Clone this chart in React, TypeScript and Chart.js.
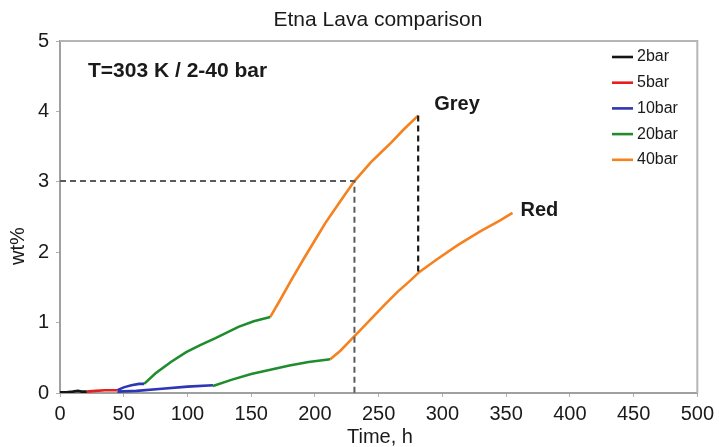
import React, { useEffect, useRef } from "react";
import { Chart, registerables } from "chart.js";

Chart.register(...registerables);

// ---- data (time in h, uptake in wt%) ----
const bar2Time = [0, 5, 10, 14, 17, 21];
const bar2Wt = [0.01, 0.01, 0.02, 0.03, 0.02, 0.02];
const bar5Time = [21, 28, 35, 40, 45];
const bar5Wt = [0.02, 0.03, 0.04, 0.04, 0.04];

// "Grey" lava branch
const bar10GreyTime = [45, 50, 56, 62, 66];
const bar10GreyWt = [0.04, 0.08, 0.11, 0.13, 0.13];
const bar20GreyTime = [66, 75, 87, 99, 110, 122, 140, 152, 165];
const bar20GreyWt = [0.13, 0.28, 0.44, 0.58, 0.68, 0.78, 0.94, 1.02, 1.08];
const bar40GreyTime = [165, 172, 182, 191, 200, 208, 216, 224, 231, 244, 252, 260, 270, 281];
const bar40GreyWt = [1.08, 1.3, 1.62, 1.9, 2.17, 2.41, 2.62, 2.83, 3.01, 3.28, 3.42, 3.56, 3.75, 3.94];

// "Red" lava branch
const bar10RedTime = [45, 60, 80, 100, 120];
const bar10RedWt = [0.02, 0.03, 0.06, 0.09, 0.11];
const bar20RedTime = [120, 135, 150, 165, 180, 195, 212];
const bar20RedWt = [0.1, 0.19, 0.27, 0.33, 0.39, 0.44, 0.48];
const bar40RedTime = [212, 220, 228, 236, 245, 255, 265, 275, 282, 295, 312, 330, 345, 355];
const bar40RedWt = [0.48, 0.6, 0.75, 0.9, 1.07, 1.26, 1.44, 1.6, 1.72, 1.89, 2.1, 2.3, 2.45, 2.56];

// guide lines
const guideTime = 231;
const guideWt = 3.01;
const diffTime = 281;
const diffTop = 3.94;
const diffBottom = 1.72;

const seriesNames = ["2bar", "5bar", "10bar", "20bar", "40bar"];
const seriesColors = ["#151515", "#e3201f", "#2d36b3", "#1f8d2d", "#f5821f"];

const titleText = "Etna Lava comparison";
const noteText = "T=303 K / 2-40 bar";
const xTitle = "Time, h";
const yTitle = "wt%";

const FONT = "'Liberation Sans', Arial, Helvetica, sans-serif";

type P = { x: number; y: number | null };
const pts = (t: number[], w: number[]): P[] => t.map((x, i) => ({ x, y: w[i] }));
const joinGap = (a: P[], b: P[]): P[] => [...a, { x: a[a.length - 1].x + 0.01, y: null }, ...b];

export default function App() {
  const ref = useRef<HTMLCanvasElement>(null);

  useEffect(() => {
    if (!ref.current) return;
    const lineDs = (label: string, data: P[], color: string) => ({
      label,
      data,
      borderColor: color,
      backgroundColor: color,
      borderWidth: 2.6,
      pointRadius: 0,
      showLine: true,
      spanGaps: false,
      tension: 0,
    });

    const data = {
      datasets: [
        {
          label: "guide",
          data: [
            { x: 0, y: guideWt },
            { x: guideTime, y: guideWt },
            { x: guideTime, y: 0 },
          ],
          borderColor: "#5a5a5a",
          borderWidth: 2,
          borderDash: [6, 4],
          pointRadius: 0,
          showLine: true,
        },
        {
          label: "diff",
          data: [
            { x: diffTime, y: diffTop },
            { x: diffTime, y: diffBottom },
          ],
          borderColor: "#1a1a1a",
          borderWidth: 2.2,
          borderDash: [6, 4],
          pointRadius: 0,
          showLine: true,
        },
        lineDs(seriesNames[0], pts(bar2Time, bar2Wt), seriesColors[0]),
        lineDs(seriesNames[1], pts(bar5Time, bar5Wt), seriesColors[1]),
        lineDs(seriesNames[2], joinGap(pts(bar10GreyTime, bar10GreyWt), pts(bar10RedTime, bar10RedWt)), seriesColors[2]),
        lineDs(seriesNames[3], joinGap(pts(bar20GreyTime, bar20GreyWt), pts(bar20RedTime, bar20RedWt)), seriesColors[3]),
        lineDs(seriesNames[4], joinGap(pts(bar40GreyTime, bar40GreyWt), pts(bar40RedTime, bar40RedWt)), seriesColors[4]),
      ],
    };

    const textPlugin = {
      id: "texts",
      afterDraw(chart: any) {
        const { ctx, chartArea, scales } = chart;
        const xs = scales.x;
        const ys = scales.y;
        ctx.save();
        // frame top/right
        ctx.strokeStyle = "#b5b5b5";
        ctx.lineWidth = 2;
        ctx.beginPath();
        ctx.moveTo(chartArea.left, chartArea.top);
        ctx.lineTo(chartArea.right, chartArea.top);
        ctx.lineTo(chartArea.right, chartArea.bottom);
        ctx.stroke();

        ctx.fillStyle = "#1a1a1a";
        ctx.textBaseline = "middle";
        // title
        ctx.font = `21px ${FONT}`;
        ctx.textAlign = "center";
        ctx.fillText(titleText, 378, 20);
        // x title
        ctx.font = `20px ${FONT}`;
        ctx.fillText(xTitle, 380, 437);
        // y title
        ctx.save();
        ctx.translate(18, 246);
        ctx.rotate(-Math.PI / 2);
        ctx.fillText(yTitle, 0, 0);
        ctx.restore();

        // note
        ctx.textAlign = "left";
        ctx.font = `bold 21px ${FONT}`;
        ctx.fillText(noteText, 88, 71);
        // branch labels
        ctx.font = `bold 20px ${FONT}`;
        const gx = xs.getPixelForValue(bar40GreyTime[bar40GreyTime.length - 1]);
        const gy = ys.getPixelForValue(bar40GreyWt[bar40GreyWt.length - 1]);
        ctx.fillText("Grey", gx + 16, gy - 11);
        const rx = xs.getPixelForValue(bar40RedTime[bar40RedTime.length - 1]);
        const ry = ys.getPixelForValue(bar40RedWt[bar40RedWt.length - 1]);
        ctx.fillText("Red", rx + 8, ry - 2);

        // legend
        ctx.font = `16px ${FONT}`;
        seriesNames.forEach((name, i) => {
          const y = 57 + i * 25.7;
          ctx.strokeStyle = seriesColors[i];
          ctx.lineWidth = 2.6;
          ctx.beginPath();
          ctx.moveTo(612, y);
          ctx.lineTo(633, y);
          ctx.stroke();
          ctx.fillStyle = "#1a1a1a";
          ctx.fillText(name, 637, y);
        });
        ctx.restore();
      },
    };

    const tickFont = { family: FONT, size: 20 };
    const chart = new Chart(ref.current, {
      type: "scatter",
      data: data as any,
      plugins: [textPlugin],
      options: {
        animation: false,
        responsive: false,
        layout: { padding: { top: 41, right: 18, left: 0, bottom: 0 } },
        plugins: { legend: { display: false }, tooltip: { enabled: false }, title: { display: false } },
        scales: {
          x: {
            type: "linear",
            min: 0,
            max: 500,
            afterFit: (s: any) => {
              s.height = 54;
            },
            ticks: { stepSize: 50, font: tickFont, color: "#1a1a1a", padding: 5, maxRotation: 0 },
            grid: { drawOnChartArea: false, drawTicks: true, tickLength: 4, color: "#b0b0b0" },
            border: { color: "#a0a0a0", width: 2 },
          },
          y: {
            type: "linear",
            min: 0,
            max: 5,
            afterFit: (s: any) => {
              s.width = 60;
            },
            ticks: { stepSize: 1, font: tickFont, color: "#1a1a1a", padding: 7 },
            grid: { drawOnChartArea: false, drawTicks: true, tickLength: 4, color: "#b0b0b0" },
            border: { color: "#a0a0a0", width: 2 },
          },
        },
      } as any,
    });
    return () => chart.destroy();
  }, []);

  return (
    <div style={{ position: "absolute", left: 0, top: 0, width: 719, height: 447, background: "#fff" }}>
      <canvas ref={ref} width={719} height={447} style={{ width: 719, height: 447, display: "block" }} />
    </div>
  );
}
